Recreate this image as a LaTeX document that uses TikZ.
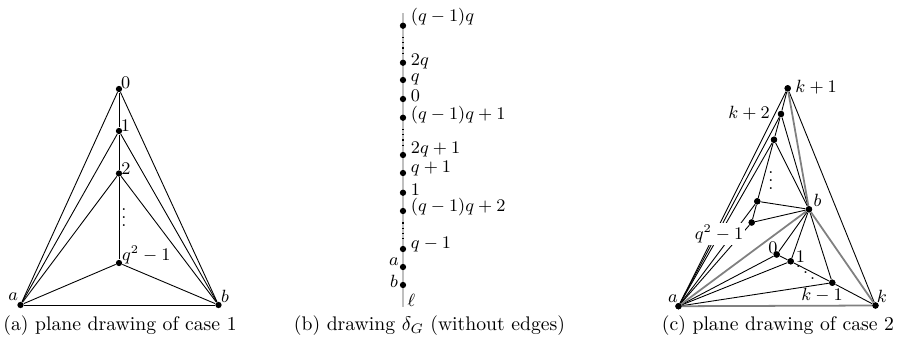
\documentclass[tikz,border=0pt]{standalone}
\usepackage{amsmath}
\begin{document}
\begin{tikzpicture}[x=0.5076pt,y=-0.5076pt,line width=0.45pt,
  vtx/.style={circle,fill=black,inner sep=0pt,minimum size=3.2pt},
  lbl/.style={font=\small,inner sep=0pt},
  captxt/.style={font=\normalsize,inner sep=0pt},
  gedge/.style={draw=gray,line width=0.9pt},
  lline/.style={draw=black!25,line width=1pt},
  dotseg/.style={dotted,line width=0.6pt,shorten <=4pt,shorten >=3pt}]
\useasboundingbox (0,0) rectangle (897,345);

% ---------------- panel (a)
\node[vtx] (A0) at (119,89) {};
\node[vtx] (A1) at (119,131) {};
\node[vtx] (A2) at (119,173.5) {};
\node[vtx] (Aq) at (119,263) {};
\node[vtx] (Aa) at (20.5,305) {};
\node[vtx] (Ab) at (218.5,305) {};
\draw (A0) -- (A1) -- (A2) -- (Aq);
\foreach \v in {A0,A1,A2,Aq} {\draw (Aa) -- (\v) -- (Ab);}
\draw (Aa) -- (Ab);
\node[lbl] (LA0) at (125.8,82.5) {$0$};
\node[lbl] (LA1) at (125.5,126) {$1$};
\node[lbl] (LA2) at (126,169) {$2$};
\node[lbl] (LAq) at (146.2,255) {$q^2-1$};
\node[lbl] (LAa) at (13.3,296.7) {$a$};
\node[lbl] (LAb) at (225,296.7) {$b$};
\node[lbl,anchor=base] (LAd) at (124,226) {$\smash{\vdots}$};

% ---------------- panel (b)
\coordinate (Ltop) at (403,13);
\coordinate (Lbot) at (403,307);
\draw[lline] (Ltop) -- (Lbot);
\foreach \n/\y in {1/25.7,3/62.7,4/80,5/99,6/117.7,8/155,9/173,10/192.7,11/211,13/249,14/267,15/285}
  {\node[vtx] (B\n) at (403,\y) {};}
\draw[dotseg] (B1) -- (B3);
\draw[dotseg] (B6) -- (B8);
\draw[dotseg] (B11) -- (B13);
\node[lbl,anchor=west] (LB1) at (410.5,17.5) {$(q-1)q$};
\node[lbl,anchor=west] (LB3) at (410.5,61.5) {$2q$};
\node[lbl,anchor=west] (LB4) at (410.5,79) {$q$};
\node[lbl,anchor=west] (LB5) at (410.5,95.5) {$0$};
\node[lbl,anchor=west] (LB6) at (410.5,115) {$(q-1)q+1$};
\node[lbl,anchor=west] (LB8) at (410.5,150) {$2q+1$};
\node[lbl,anchor=west] (LB9) at (410.5,169) {$q+1$};
\node[lbl,anchor=west] (LB10) at (410.5,189.5) {$1$};
\node[lbl,anchor=west] (LB11) at (410.5,207.5) {$(q-1)q+2$};
\node[lbl,anchor=west] (LB13) at (410.5,245) {$q-1$};
\node[lbl] (LB14) at (394,262) {$a$};
\node[lbl] (LB15) at (394,281) {$b$};
\node[lbl] (LBl) at (411.5,300) {$\ell$};

% ---------------- panel (c)
\node[vtx] (Ca) at (678.5,306.2) {};
\node[vtx] (Ck) at (875.5,305.5) {};
\node[vtx] (Ck1) at (787.7,88.3) {};
\node[vtx] (Ck2) at (781,114) {};
\node[vtx] (Cn3) at (774,139.7) {};
\node[vtx] (Cn4) at (757.3,201.3) {};
\node[vtx] (Cn5) at (751.7,222.5) {};
\node[vtx] (Cb) at (809,209.3) {};
\node[vtx] (C0) at (776.7,254.5) {};
\node[vtx] (C1) at (790.7,261.3) {};
\node[vtx] (Ckm) at (832.3,282.7) {};
% black edges
\draw (Ca) -- (Ck1) -- (Ck);
\draw (Ck1) -- (Ck2) -- (Cn3) -- (Cn4) -- (Cn5);
\foreach \v in {Ck2,Cn3,Cn4,Cn5} {\draw (Ca) -- (\v);}
\foreach \v in {Ck2,Cn3,Cn4,Cn5} {\draw (\v) -- (Cb);}
\draw (C0) -- (C1) -- (Ckm) -- (Ck);
\foreach \v in {C0,C1,Ckm} {\draw (Ca) -- (\v); \draw (\v) -- (Cb);}
% gray edges
\draw[gedge] (Ca) -- (Cb);
\draw[gedge] (Cb) -- (Ck);
\draw[gedge] (Ck1) -- (Cb);
\draw[gedge] (Ca) -- (Ck);
% redraw dots on top
\foreach \v in {Ca,Ck,Ck1,Ck2,Cn3,Cn4,Cn5,Cb,C0,C1,Ckm} {\node[vtx] at (\v) {};}
\node[lbl,fill=white,inner sep=1pt] (LCq) at (719,234) {$q^2-1$};
\node[lbl,anchor=west] (LCk1) at (795,87) {$k+1$};
\node[lbl] (LCk2) at (749,113) {$k+2$};
\node[lbl] (LCb) at (817.5,200) {$b$};
\node[lbl] (LC0) at (773,248) {$0$};
\node[lbl] (LC1) at (800.5,257) {$1$};
\node[lbl] (LCkm) at (822,295.5) {$k-1$};
\node[lbl] (LCk) at (882,296) {$k$};
\node[lbl] (LCa) at (673,299) {$a$};
\node[lbl,anchor=base] (LCv) at (771,189) {$\smash{\vdots}$};
\node[lbl,anchor=base west] (LCd) at (794.5,281) {$\smash{\ddots}$};

% ---------------- captions
\node[captxt] (capa) at (120,326) {(a) plane drawing of case 1};
\node[captxt] (capb) at (429.5,326) {(b) drawing $\delta_G$ (without edges)};
\node[captxt] (capc) at (778,326) {(c) plane drawing of case 2};
\end{tikzpicture}
\end{document}
